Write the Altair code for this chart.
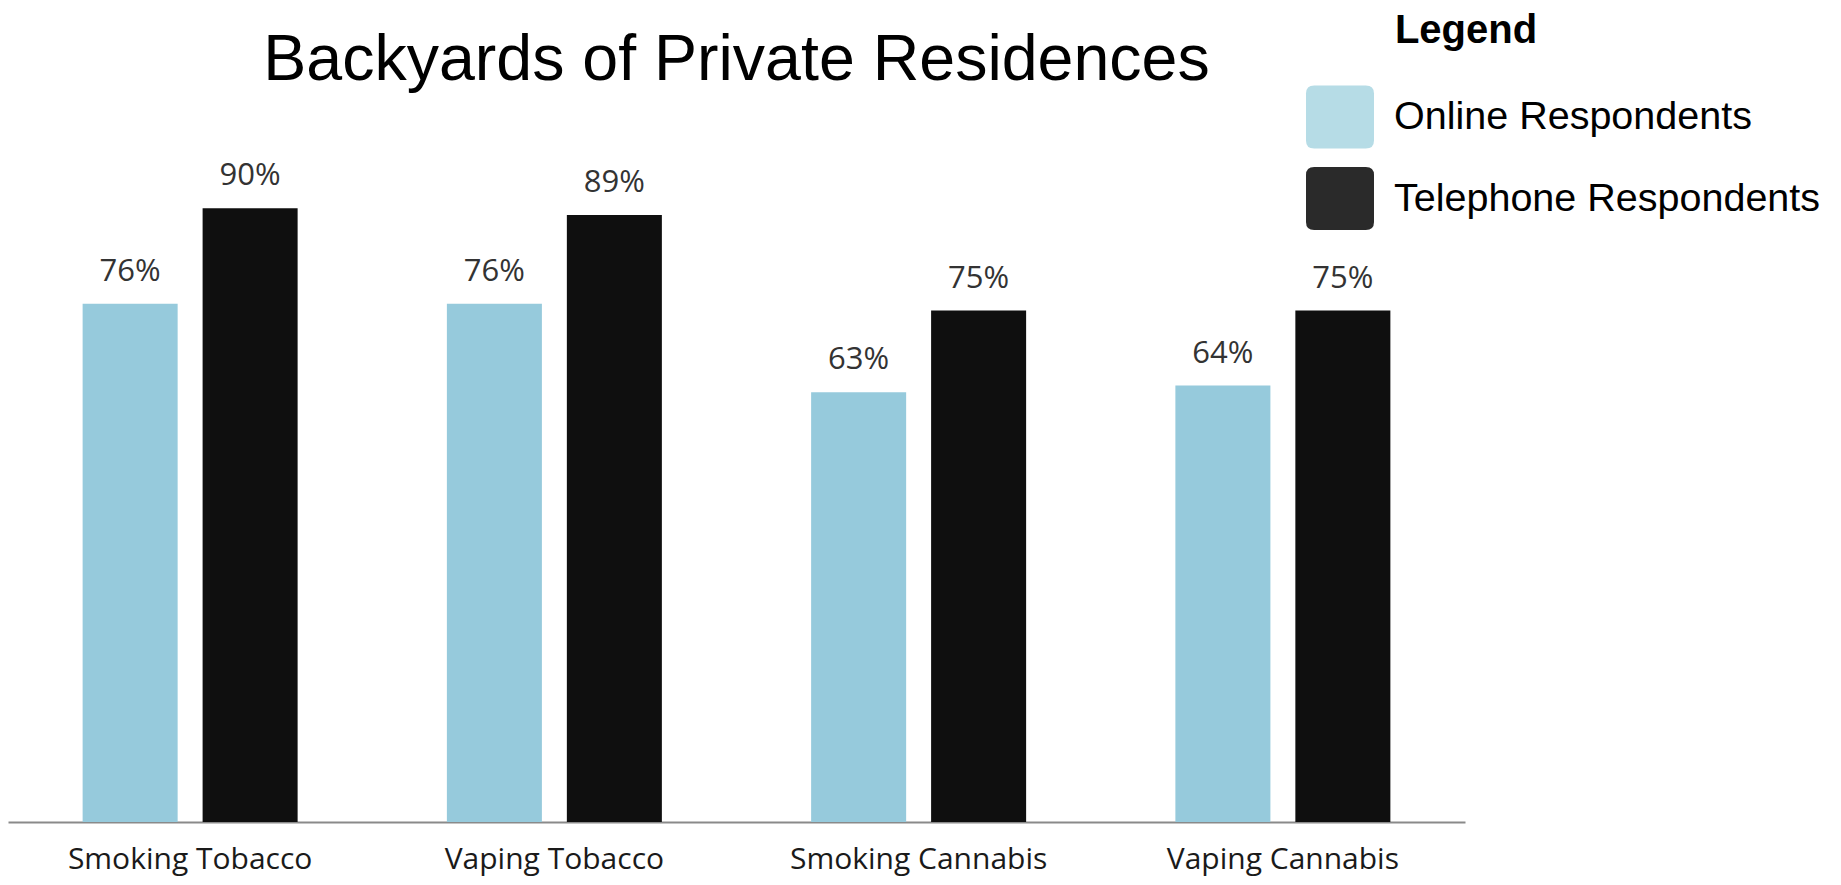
import altair as alt
import pandas as pd

categories = ["Smoking Tobacco", "Vaping Tobacco", "Smoking Cannabis", "Vaping Cannabis"]
groups = ["Online Respondents", "Telephone Respondents"]
online = [76, 76, 63, 64]
telephone = [90, 89, 75, 75]

bar_colors = ["#96CADC", "#0F0F0F"]
legend_colors = ["#B6DCE6", "#2A2A2A"]

rows = []
for c, o, t in zip(categories, online, telephone):
    rows.append({"category": c, "group": groups[0], "value": o})
    rows.append({"category": c, "group": groups[1], "value": t})
df = pd.DataFrame(rows)

x_enc = alt.X("category:N", sort=categories,
              scale=alt.Scale(domain=categories, paddingInner=0, paddingOuter=0),
              axis=alt.Axis(title=None, labelAngle=0, ticks=False, labelPadding=22,
                            labelFont="Open Sans", labelFontSize=30, labelColor="#1a1a1a",
                            domainColor="#8a8a8a", domainWidth=2, grid=False, labelLimit=0))
xoff_enc = alt.XOffset("group:N", sort=groups,
                       scale=alt.Scale(domain=groups, paddingInner=0.208, paddingOuter=0.622))
y_enc = alt.Y("value:Q", scale=alt.Scale(domain=[0, 100], nice=False), axis=None)

base = alt.Chart(df)

bars = base.mark_bar().encode(
    x=x_enc, xOffset=xoff_enc, y=y_enc,
    color=alt.Color("group:N", scale=alt.Scale(domain=groups, range=bar_colors), legend=None),
)

labels = base.transform_calculate(label="datum.value + '%'").mark_text(
    baseline="alphabetic", dy=-23, font="Open Sans", fontSize=31, color="#333333"
).encode(x=x_enc, xOffset=xoff_enc, y=y_enc, text="label:N")

rounded = ("M -0.76 -0.926 L 0.76 -0.926 Q 1 -0.926 1 -0.69 L 1 0.69 Q 1 0.926 0.76 0.926 "
           "L -0.76 0.926 Q -1 0.926 -1 0.69 L -1 -0.69 Q -1 -0.926 -0.76 -0.926 Z")

legend_layer = base.transform_filter("false").mark_bar().encode(
    x=x_enc, xOffset=xoff_enc, y=y_enc,
    color=alt.Color("group:N", scale=alt.Scale(domain=groups, range=legend_colors),
                    legend=alt.Legend(
                        title="\u200b" + "\u00a0" * 8 + "Legend", orient="none",
                        legendX=1298, legendY=-129,
                        titleFont="Liberation Sans", titleFontSize=40, titleFontWeight="bold",
                        titleColor="#000000", titlePadding=32, titleLimit=0,
                        labelFont="Liberation Sans", labelFontSize=39.5, labelColor="#000000",
                        labelLimit=0, labelOffset=20,
                        symbolType=rounded, symbolSize=4624, symbolStrokeWidth=0,
                        symbolOpacity=1, rowPadding=15.5, padding=0)),
)

chart = alt.layer(bars, labels, legend_layer).resolve_scale(color="independent").properties(
    width=1457, height=682,
    title=alt.TitleParams("Backyards of Private Residences", font="Liberation Sans",
                          fontSize=64.5, fontWeight="normal", color="#000000", anchor="middle",
                          baseline="alphabetic", offset=58, dy=191, frame="group"),
    padding={"left": 0, "top": 132, "right": 360, "bottom": 55},
    autosize="none",
).configure_view(stroke=None)

chart.save("out.html", embed_options={"renderer": "svg", "actions": False})
